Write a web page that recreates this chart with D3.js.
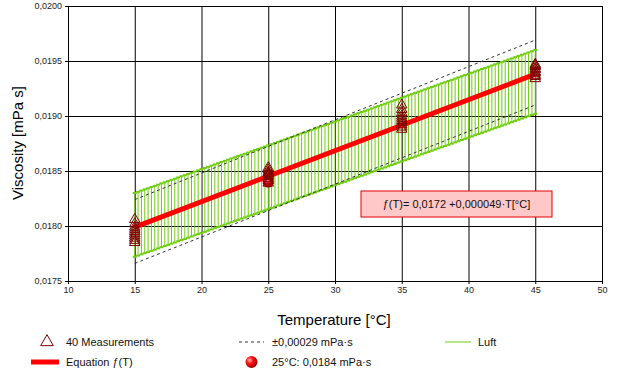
<!DOCTYPE html>
<html><head><meta charset="UTF-8"><style>
body { margin: 0; background: #fff; }
svg { font-family: "Liberation Sans", Arial, sans-serif; }
.axis .domain { stroke: #000; }
.axis text { fill: #222; font-size: 9px; }
.grid .domain { display: none; }
.grid line { stroke: #000; }
</style>
</head>
<body>
<svg width="618" height="376"></svg>
<script src="https://cdn.jsdelivr.net/npm/d3@7"></script>
<script>

var xTicks = [10, 15, 20, 25, 30, 35, 40, 45, 50];
var yTicks = [0.0175, 0.0180, 0.0185, 0.0190, 0.0195, 0.0200];
var yTickLabels = ["0,0175", "0,0180", "0,0185", "0,0190", "0,0195", "0,0200"];

// 40 measurements, 10 at each temperature
var measT = [15, 25, 35, 45];
var measV = [
    [0.01806, 0.01802, 0.01799, 0.01797, 0.01795, 0.01793, 0.01791, 0.01789, 0.01787, 0.01785],
    [0.01853, 0.01851, 0.01849, 0.01848, 0.01847, 0.01846, 0.01845, 0.01843, 0.01841, 0.01839],
    [0.01910, 0.01906, 0.01903, 0.01900, 0.01898, 0.01896, 0.01894, 0.01892, 0.01890, 0.01888],
    [0.01947, 0.01946, 0.01945, 0.01943, 0.01942, 0.01940, 0.01939, 0.01937, 0.01936, 0.01934]
];

// fitted line f(T) and the +/- band (dashed)
var fitT = [15, 45];
var fitV = [0.01799, 0.01938];
var bandUpper = [0.01824, 0.01969];
var bandLower = [0.01766, 0.01910];

// Luft reference, every 0.25 degC from 15 to 45, with error bars
var luftStart = 15, luftStep = 0.25;
var luftErr = 0.00029;
var luftV = [
    0.018010, 0.018021, 0.018032, 0.018043, 0.018053, 0.018064, 0.018075, 0.018086, 0.018097, 0.018107,
    0.018118, 0.018129, 0.018140, 0.018151, 0.018162, 0.018172, 0.018183, 0.018194, 0.018205, 0.018216,
    0.018227, 0.018237, 0.018248, 0.018259, 0.018270, 0.018281, 0.018292, 0.018302, 0.018313, 0.018324,
    0.018335, 0.018346, 0.018357, 0.018367, 0.018378, 0.018389, 0.018400, 0.018411, 0.018422, 0.018432,
    0.018443, 0.018454, 0.018465, 0.018476, 0.018487, 0.018497, 0.018508, 0.018519, 0.018530, 0.018541,
    0.018552, 0.018562, 0.018573, 0.018584, 0.018595, 0.018606, 0.018617, 0.018627, 0.018638, 0.018649,
    0.018660, 0.018671, 0.018682, 0.018692, 0.018703, 0.018714, 0.018725, 0.018736, 0.018747, 0.018757,
    0.018768, 0.018779, 0.018790, 0.018801, 0.018812, 0.018822, 0.018833, 0.018844, 0.018855, 0.018866,
    0.018877, 0.018887, 0.018898, 0.018909, 0.018920, 0.018931, 0.018942, 0.018952, 0.018963, 0.018974,
    0.018985, 0.018996, 0.019007, 0.019017, 0.019028, 0.019039, 0.019050, 0.019061, 0.019072, 0.019082,
    0.019093, 0.019104, 0.019115, 0.019126, 0.019137, 0.019147, 0.019158, 0.019169, 0.019180, 0.019191,
    0.019202, 0.019212, 0.019223, 0.019234, 0.019245, 0.019256, 0.019267, 0.019277, 0.019288, 0.019299,
    0.019310
];

var refPoint = { t: 25, v: 0.0184 };
var equationText = "\u0192(T)= 0,0172 +0,000049\u00b7T[\u00b0C]";

var svg = d3.select("svg"),
    margin = {top: 6, right: 16, bottom: 95, left: 68},
    width = +svg.attr("width") - margin.left - margin.right,
    height = +svg.attr("height") - margin.top - margin.bottom,
    g = svg.append("g").attr("transform", "translate(" + margin.left + "," + margin.top + ")");

var x = d3.scaleLinear().domain([10, 50]).range([0, width]);
var y = d3.scaleLinear().domain([0.0175, 0.0200]).range([height, 0]);

var green = "#6fcc10";

var defs = svg.append("defs");
var grad = defs.append("radialGradient").attr("id", "ball")
    .attr("cx", "35%").attr("cy", "35%").attr("r", "65%");
grad.append("stop").attr("offset", "0%").attr("stop-color", "#ffb0b0");
grad.append("stop").attr("offset", "45%").attr("stop-color", "#ff1010");
grad.append("stop").attr("offset", "100%").attr("stop-color", "#a00000");

// grid
g.append("g")
    .attr("class", "grid")
    .call(d3.axisLeft(y).tickValues(yTicks).tickSize(-width).tickFormat(""));
g.append("g")
    .attr("class", "grid")
    .attr("transform", "translate(0," + height + ")")
    .call(d3.axisBottom(x).tickValues(xTicks).tickSize(height).tickFormat(""))
  .selectAll("line")
    .attr("y2", -height);

// axes
g.append("g")
    .attr("class", "axis")
    .call(d3.axisLeft(y).tickValues(yTicks).tickSize(3).tickSizeOuter(0)
        .tickFormat(function(d, i) { return yTickLabels[i]; }));
g.append("g")
    .attr("class", "axis")
    .attr("transform", "translate(0," + height + ")")
    .call(d3.axisBottom(x).tickValues(xTicks).tickSize(3).tickSizeOuter(0));

// Luft error bars
var luft = luftV.map(function(v, i) { return { t: luftStart + i * luftStep, v: v }; });
var bars = g.append("g").attr("stroke", green);
bars.selectAll("line.v")
    .data(luft)
    .enter().append("line")
      .attr("x1", function(d) { return x(d.t); })
      .attr("x2", function(d) { return x(d.t); })
      .attr("y1", function(d) { return y(d.v + luftErr); })
      .attr("y2", function(d) { return y(d.v - luftErr); })
      .attr("stroke-width", 1);
[luftErr, -luftErr].forEach(function(e) {
  bars.selectAll(null)
    .data(luft)
    .enter().append("line")
      .attr("x1", function(d) { return x(d.t) - 2; })
      .attr("x2", function(d) { return x(d.t) + 2; })
      .attr("y1", function(d) { return y(d.v + e); })
      .attr("y2", function(d) { return y(d.v + e); })
      .attr("stroke-width", 2);
});

// dashed band
[bandUpper, bandLower].forEach(function(b) {
  g.append("line")
      .attr("x1", x(fitT[0])).attr("x2", x(fitT[1]))
      .attr("y1", y(b[0])).attr("y2", y(b[1]))
      .attr("stroke", "#333")
      .attr("stroke-dasharray", "3,3");
});

// fit line
g.append("line")
    .attr("x1", x(fitT[0])).attr("x2", x(fitT[1]))
    .attr("y1", y(fitV[0])).attr("y2", y(fitV[1]))
    .attr("stroke", "#ff0000")
    .attr("stroke-width", 5);

// reference point
g.append("circle")
    .attr("cx", x(refPoint.t)).attr("cy", y(refPoint.v))
    .attr("r", 5.5)
    .attr("fill", "url(#ball)");

// measurements
var tri = d3.symbol().type(d3.symbolTriangle).size(48);
var meas = [];
measT.forEach(function(t, i) { measV[i].forEach(function(v) { meas.push({ t: t, v: v }); }); });
g.append("g")
  .selectAll("path")
  .data(meas)
  .enter().append("path")
    .attr("transform", function(d) { return "translate(" + x(d.t) + "," + y(d.v) + ")"; })
    .attr("d", tri)
    .attr("fill", "none")
    .attr("stroke", "#800000")
    .attr("stroke-width", 1);

// equation box
var box = g.append("g").attr("transform", "translate(" + (361 - margin.left) + "," + (191 - margin.top) + ")");
box.append("rect")
    .attr("width", 191).attr("height", 26)
    .attr("fill", "#ffc8c8")
    .attr("stroke", "#e00000");
box.append("text")
    .attr("x", 95.5).attr("y", 13).attr("dy", "0.35em")
    .attr("text-anchor", "middle")
    .attr("font-size", 11)
    .attr("fill", "#111")
    .text(equationText);

// axis titles
svg.append("text")
    .attr("transform", "translate(23,143) rotate(-90)")
    .attr("text-anchor", "middle")
    .attr("font-size", 15)
    .text("Viscosity [mPa s]");
svg.append("text")
    .attr("x", 334).attr("y", 320).attr("dy", "0.35em")
    .attr("text-anchor", "middle")
    .attr("font-size", 15)
    .text("Temperature [\u00b0C]");

// legend
var legend = svg.append("g").attr("font-size", 11).attr("fill", "#111");
legend.append("path")
    .attr("transform", "translate(47,342)")
    .attr("d", d3.symbol().type(d3.symbolTriangle).size(70)())
    .attr("fill", "none").attr("stroke", "#800000");
legend.append("text").attr("x", 66).attr("y", 342).attr("dy", "0.35em").text("40 Measurements");

legend.append("line").attr("x1", 31).attr("x2", 59).attr("y1", 362).attr("y2", 362)
    .attr("stroke", "#ff0000").attr("stroke-width", 5);
legend.append("text").attr("x", 66).attr("y", 362).attr("dy", "0.35em").text("Equation \u0192(T)");

legend.append("line").attr("x1", 239).attr("x2", 264).attr("y1", 342).attr("y2", 342)
    .attr("stroke", "#333").attr("stroke-dasharray", "3,3");
legend.append("text").attr("x", 272).attr("y", 342).attr("dy", "0.35em").text("\u00b10,00029 mPa\u00b7s");

legend.append("circle").attr("cx", 251.5).attr("cy", 362).attr("r", 6).attr("fill", "url(#ball)");
legend.append("text").attr("x", 272).attr("y", 362).attr("dy", "0.35em").text("25\u00b0C: 0,0184 mPa\u00b7s");

legend.append("line").attr("x1", 445).attr("x2", 471).attr("y1", 342).attr("y2", 342)
    .attr("stroke", green);
legend.append("text").attr("x", 478).attr("y", 342).attr("dy", "0.35em").text("Luft");

</script>
</body></html>
